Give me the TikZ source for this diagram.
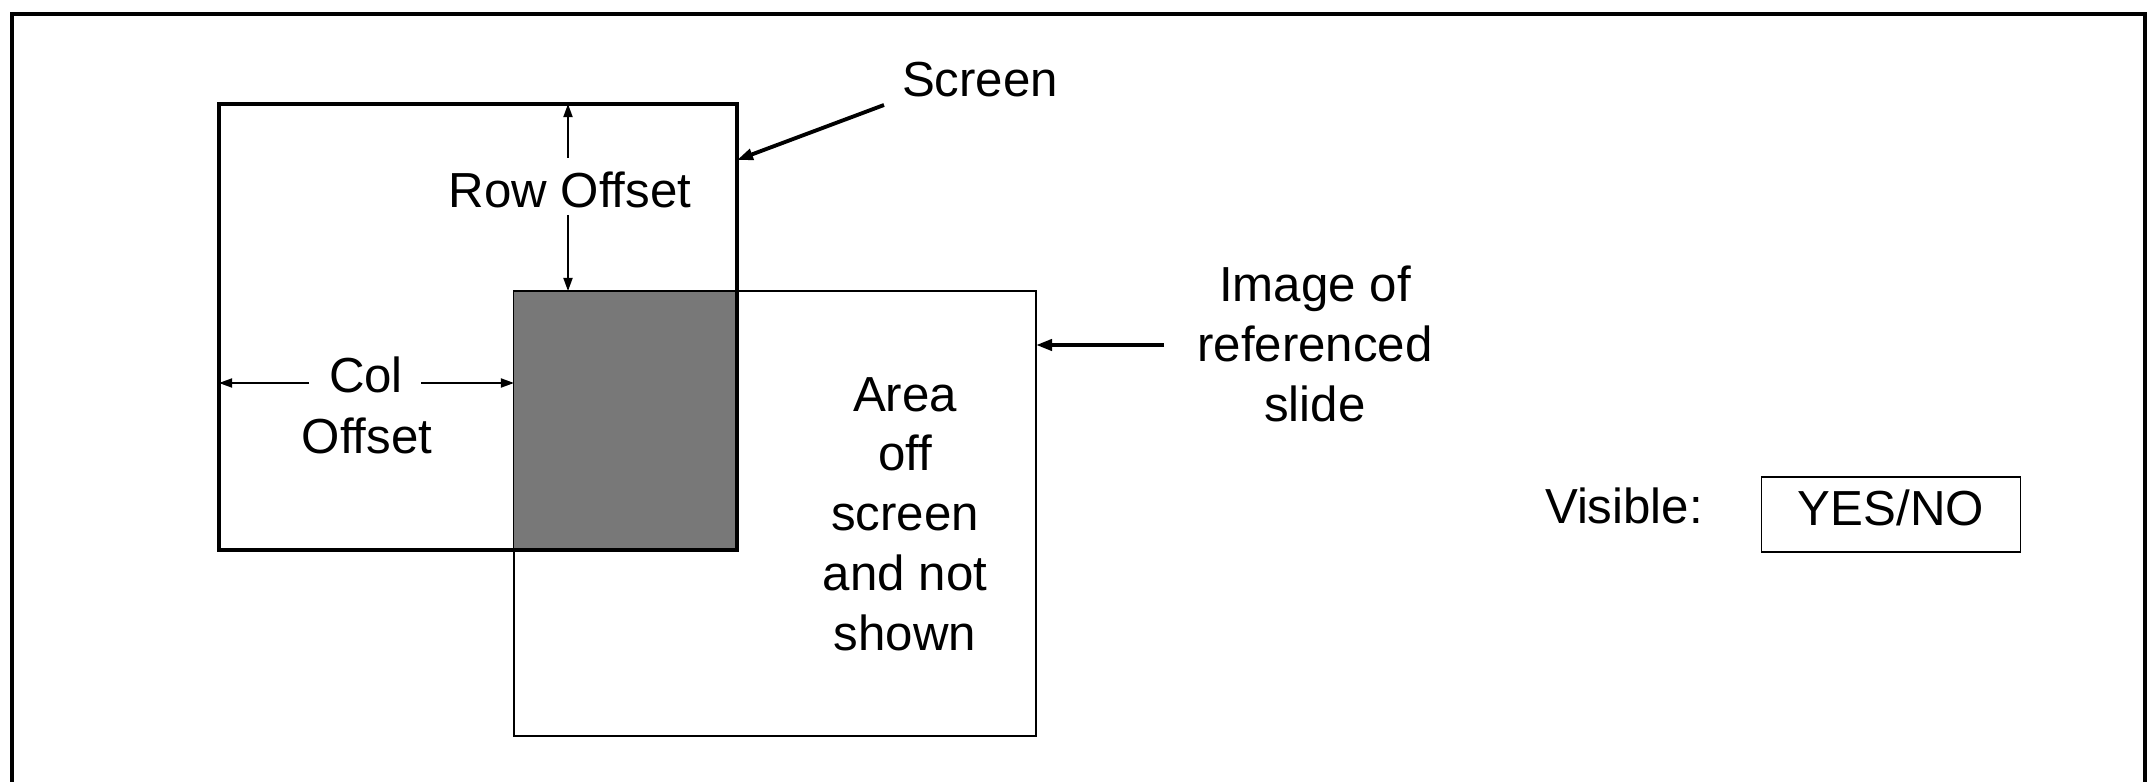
\documentclass[tikz,border=0pt]{standalone}
\usepackage{fontspec}
\setmainfont{Liberation Sans}
\usetikzlibrary{arrows.meta}
\definecolor{ovgray}{gray}{0.47}
\tikzset{
  lbl/.style={font=\fontsize{14pt}{17pt}\selectfont, inner sep=0pt, align=center},
  arr/.style={-{Triangle[length=0.13cm,width=0.09cm]}, line width=0.5pt},
  ptr/.style={-{Triangle[length=0.16cm,width=0.11cm]}, line width=1.1pt},
  frameline/.style={line width=0.9pt},
  scrbox/.style={line width=1.4pt},
  imgbox/.style={line width=0.5pt},
  ansbox/.style={draw, line width=0.5pt, minimum width=2.59cm, minimum height=0.75cm,
                 text height=0.35cm, text depth=0.14cm, inner sep=0pt}
}
\begin{document}
\begin{tikzpicture}[x=0.01cm,y=-0.01cm]
\useasboundingbox (0,0) rectangle (2153,782);
% outer frame (open at the bottom)
\draw[frameline] (12,782) -- (12,14) -- (2145,14) -- (2145,782);
% rectangles
\coordinate (sTL) at (219,104); \coordinate (sBR) at (737,550);
\coordinate (iTL) at (514,291); \coordinate (iBR) at (1036,736);
\draw[imgbox] (iTL) rectangle (iBR);
\fill[ovgray] (iTL) rectangle (sBR);
\draw[imgbox] (iTL) -- (iTL -| sBR);
\draw[scrbox] (sTL) rectangle (sBR);
% Row offset
\node[lbl, anchor=base] (row) at (570,208) {Row Offset};
\coordinate (rowtop) at (568,158); \coordinate (rowbot) at (568,215);
\draw[arr] (rowtop) -- (rowtop |- sTL);
\draw[arr] (rowbot) -- (rowbot |- iTL);
% Col offset
\node[lbl, anchor=base] (col) at (366,393) {Col};
\node[lbl, anchor=base] (colofs) at (367,453) {Offset};
\coordinate (colL) at (309,383); \coordinate (colR) at (421,383);
\draw[arr] (colL) -- (colL -| sTL);
\draw[arr] (colR) -- (colR -| iTL);
% Screen label
\node[lbl, anchor=base] (screen) at (980,97) {Screen};
\coordinate (scrfrom) at (884,105); \coordinate (scrto) at (737,160);
\draw[ptr] (scrfrom) -- (scrto);
% Image label
\node[lbl] (imglbl) at (1315,344) {Image of\\referenced\\slide};
\coordinate (imgfrom) at (1164,345); \coordinate (imgto) at (1036,345);
\draw[ptr] (imgfrom) -- (imgto);
% Area text
\node[lbl] (area) at (905,514) {Area\\off\\screen\\and not\\shown};
% Visible
\node[lbl, anchor=base] (vis) at (1624,524) {Visible:};
\node[lbl, ansbox] (yesno) at (1891,514.5) {YES/NO};
\end{tikzpicture}
\end{document}
